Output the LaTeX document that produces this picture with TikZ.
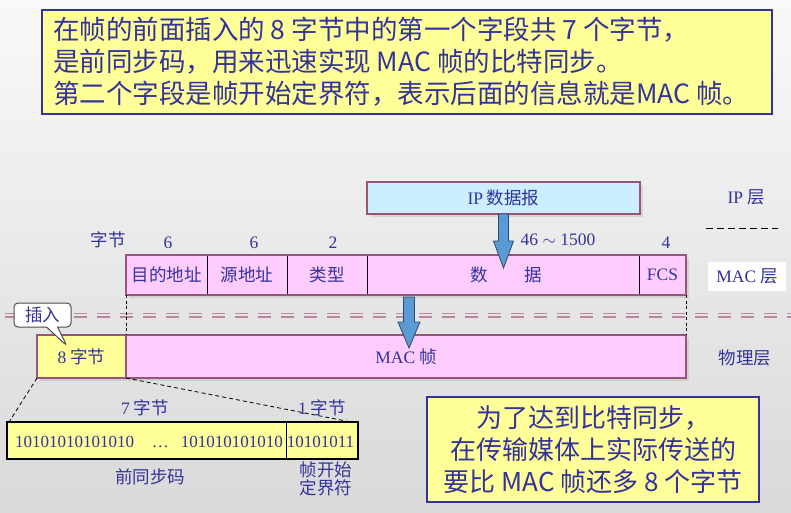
\documentclass[tikz,border=0pt]{standalone}
\usepackage{fontspec}
\setmainfont{Liberation Serif}
\newfontfamily\cjk{Noto Sans CJK SC}
\usetikzlibrary{shapes.callouts,calc,shadows}
\definecolor{txtblue}{HTML}{333399}
\definecolor{pinkfill}{HTML}{FFCCFF}
\definecolor{mauve}{HTML}{995577}
\definecolor{ipblue}{HTML}{CCEEFF}
\definecolor{yel}{HTML}{FFFF99}
\definecolor{arrowblue}{HTML}{5B9BD5}
\definecolor{arrowedge}{HTML}{2E4A6B}
\definecolor{dashpink}{HTML}{B8879F}
\definecolor{bgtop}{HTML}{F9F9F9}
\definecolor{bgmid}{HTML}{F0F0F0}
\definecolor{bgbot}{HTML}{D9D9D9}
\newcommand\lt[1]{{\rmfamily #1}}
\begin{document}
\begin{tikzpicture}[x=1pt,y=-1pt,
  every node/.style={text=txtblue, inner sep=0pt, outer sep=0pt},
  bigtxt/.style={font={\cjk\fontsize{26.5}{32}\selectfont}},
  sumtxt/.style={font={\cjk\fontsize{26}{32}\selectfont}},
  lab/.style={font={\cjk\fontsize{17.5}{18}\selectfont}},
  bits/.style={font={\rmfamily\fontsize{17}{18}\selectfont}},
  rowbox/.style={draw=mauve, line width=2pt, fill=pinkfill, lab,
     drop shadow={opacity=0.2, shadow xshift=2.5pt, shadow yshift=-2.5pt}},
  field/.style={lab, minimum height=40},
  divider/.style={draw=black, line width=0.9pt},
  vdash/.style={draw=black, line width=0.7pt, dash pattern=on 3pt off 2.5pt},
  blockarrow/.style={fill=arrowblue, draw=arrowedge, line width=0.8pt, line join=miter},
  pinkdash/.style={draw=dashpink, line width=1.6pt, dash pattern=on 13pt off 10pt, dash phase=18pt}
]
\shade[top color=bgtop, middle color=bgmid, bottom color=bgbot] (0,0) rectangle (791,513);
\useasboundingbox (0,0) rectangle (791,513);

% top note
\node[draw=txtblue, line width=1.3pt, fill=yel, minimum width=730, minimum height=104] (note) at (407,62) {};
\node[bigtxt, anchor=west] (l1) at (53,30) {在帧的前面插入的 8 字节中的第一个字段共 7 个字节，};
\node[bigtxt, anchor=west] (l2) at (53,62) {是前同步码，用来迅速实现 MAC 帧的比特同步。};
\node[bigtxt, anchor=west] (l3) at (53,94) {第二个字段是帧开始定界符，表示后面的信息就是MAC 帧。};

% IP datagram
\node[rowbox, fill=ipblue, minimum width=273, minimum height=32] (ip) at (503.5,198) {\lt{IP} 数据报};
\node[lab] (iplayer) at (746,197) {\lt{IP} 层};
\coordinate (sepL) at (706,228);
\coordinate (sepR) at (778,228);
\draw[black, line width=0.8pt, dash pattern=on 7pt off 4pt] (sepL) -- (sepR);

% byte counts
\node[lab] (bytes) at (108,240) {字节};
\node[lab] (n1) at (168,243) {\lt{6}};
\node[lab] (n2) at (254,243) {\lt{6}};
\node[lab] (n3) at (333,243) {\lt{2}};
\node[lab] (n4) at (558,240) {\lt{46 $\sim$ 1500}};
\node[lab] (n5) at (666,243) {\lt{4}};

% MAC frame row
\node[rowbox, minimum width=560, minimum height=40] (macrow) at (406,275) {};
\node[field, minimum width=81] (dst) at (166.5,275) {目的地址};
\node[field, minimum width=80] (src) at (247,275) {源地址};
\node[field, minimum width=80] (typ) at (327,275) {类型};
\node[field, minimum width=272] (dat) at (506,275) {数\hspace{37pt}据};
\node[field, minimum width=47] (fcs) at (662.5,275) {\lt{FCS}};
\draw[divider] (dst.north east) -- (dst.south east);
\draw[divider] (src.north east) -- (src.south east);
\draw[divider] (typ.north east) -- (typ.south east);
\draw[divider] (639,255) -- (639,295);
\draw[mauve, line width=2pt] (macrow.north west) rectangle (macrow.south east);

\node[lab, fill=white, minimum width=78, minimum height=29] (maclayer) at (747,276.5) {\lt{MAC} 层};

% arrow IP -> MAC
\draw[blockarrow] (ip.south) ++(-5,0) -- ++(10,0) -- ++(0,27) -- ++(5,0) -- ++(-10,27) -- ++(-10,-27) -- ++(5,0) -- cycle;

% layer separator (double dashed)
\draw[pinkdash] (0,313.5) -- (791,313.5);
\draw[pinkdash] (0,316.8) -- (791,316.8);

% physical layer row
\node[rowbox, fill=yel, minimum width=89, minimum height=43] (eight) at (81.5,356.5) {\lt{8} 字节};
\node[rowbox, minimum width=560, minimum height=43] (macfr) at (406,356.5) {\lt{MAC} 帧};
\draw[mauve, line width=2pt] (eight.north west) rectangle (eight.south east);
\node[lab] (phylayer) at (745,358) {物理层};

\draw[vdash] (macrow.south west) -- (macfr.north west);
\draw[vdash] (macrow.south east) -- (macfr.north east);

% arrow MAC -> physical
\draw[blockarrow] (macrow.south) ++(3,2) ++(-5.5,0) -- ++(11,0) -- ++(0,25) -- ++(5.5,0) -- ++(-11,26) -- ++(-11,-26) -- ++(5.5,0) -- cycle;

% callout
\coordinate (tip) at (67,346);
\node[rectangle callout, draw=black!70, fill=white, line width=1pt, rounded corners=4pt,
      minimum width=57, minimum height=24, callout absolute pointer=(tip),
      callout pointer width=11pt, font={\cjk\fontsize{17.5}{18}\selectfont}] (ins) at (42.5,315) {插入};

% detail of the 8 bytes
\node[draw=black, line width=2pt, fill=yel, minimum width=351, minimum height=37] (detail) at (182.5,440.5) {};
\node[minimum width=279, minimum height=37] (pre) at (146.5,440.5) {};
\node[minimum width=72, minimum height=37] (sfd) at (322,440.5) {};
\draw[divider] (pre.north east) -- (pre.south east);
\node[bits, anchor=west] (pretxt) at (15,442) {10101010101010\hspace{18pt}…\hspace{12pt}101010101010};
\node[bits] (sfdtxt) at (320.5,442) {10101011};

\draw[black, line width=0.8pt, dash pattern=on 4pt off 3pt] (eight.south west) -- ($(detail.north west)+(2,0)$);
\draw[black, line width=0.8pt, dash pattern=on 4pt off 3pt] (eight.south east) -- ($(detail.north east)+(-7,0)$);

\node[lab] (b7) at (145,408) {\lt{7} 字节};
\node[lab] (b1) at (322,408) {\lt{1} 字节};
\node[lab] (prelab) at (150,477) {前同步码};
\node[lab, align=center, font={\cjk\fontsize{17.5}{15}\selectfont}] (sfdlab) at (326,479) {帧开始\\定界符};

% summary box
\node[draw=txtblue, line width=1.2pt, fill=yel, minimum width=332, minimum height=105,
      align=center, sumtxt] (sum) at (593,449.5) {为了达到比特同步，\\在传输媒体上实际传送的\\要比 MAC 帧还多 8 个字节};
\end{tikzpicture}
\end{document}
